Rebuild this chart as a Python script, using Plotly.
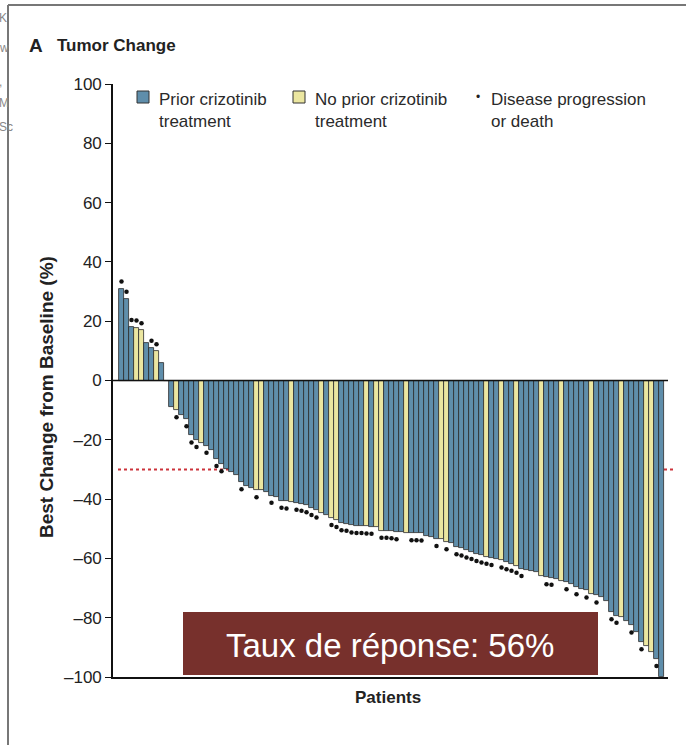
import plotly.graph_objects as go

# ---------------- data ----------------
patients = list(range(109))
best_change = [
    31, 27.5, 18, 17.8, 16.9, 12.8, 11, 9.8, 6, 0,
    -9, -10, -11.5, -13, -18.5, -20, -21, -22, -23.6, -26.4, -28.2, -29.8, -31, -32, -34.3, -35.5,
    -36.4, -37, -37, -37.5, -38.8, -39.2, -40.5, -40.8, -41, -41.2, -41.5, -42, -43, -43.8, -44.7, -45.5, -46.3, -47,
    -48.1, -48.3, -48.9, -49, -49, -49.2, -49.3, -49.5, -50.6, -50.6, -50.8, -51.1, -51.1, -51.4, -51.5, -51.5, -51.6, -52.3,
    -52.8, -53.4, -53.5, -54.5, -54.8, -56.2, -56.6, -57.3, -57.8, -58.5, -59, -59.4, -59.8, -60.2, -60.7, -61.3, -61.8, -62.4,
    -63.5, -63.8, -64.2, -64.6, -65.8, -66.3, -66.5, -66.9, -67.5, -68, -68.6, -69.7, -70.3, -70.8,
    -72, -72.5, -73, -74.2, -78.1, -79.3, -79.8, -81, -82.6, -84.9, -88.2, -89.4, -91.6, -93.9, -100,
]
no_prior_crizotinib = {3, 4, 7, 11, 16, 27, 28, 34, 40, 42, 43, 49, 51, 52, 57, 64, 65, 73, 76,
                       79, 84, 88, 94, 100, 105, 106}
progression_or_death = [0, 1, 2, 3, 4, 6, 7, 11, 13, 14, 15, 17, 19, 20, 24, 27, 30, 32, 33, 35, 36,
                        37, 38, 39, 42, 43, 44, 45, 46, 47, 48, 49, 50, 52, 53, 54, 55, 58, 59, 60,
                        63, 65, 67, 68, 69, 70, 71, 72, 73, 74, 76, 77, 78, 79, 80, 85, 86, 89, 91,
                        93, 95, 98, 99, 102, 104, 107, 108]
y_ticks = [100, 80, 60, 40, 20, 0, -20, -40, -60, -80, -100]
y_tick_labels = ["100", "80", "60", "40", "20", "0", "–20", "–40", "–60", "–80", "–100"]
threshold = -30

BLUE = "#5f8eab"
YELLOW = "#ebe6a0"
FONT = "Liberation Sans Narrow, Liberation Sans, Arial Narrow, sans-serif"

W, H = 686, 745
L, R, T, B = 113, 668, 84, 677


def px(x):
    return (x - L) / (R - L)


def py(y):
    return (B - y) / (B - T)


colors = [YELLOW if i in no_prior_crizotinib else BLUE for i in patients]

fig = go.Figure()
fig.add_trace(go.Bar(
    x=patients, y=best_change, marker=dict(color=colors, line=dict(color="#2b2b2b", width=0.8)),
    width=1.0, showlegend=False,
))
dot_y = [best_change[i] + (2.4 if best_change[i] > 0 else -2.4) for i in progression_or_death]
fig.add_trace(go.Scatter(
    x=progression_or_death, y=dot_y, mode="markers",
    marker=dict(color="#111111", size=4.5, symbol="circle"),
    cliponaxis=False, showlegend=False,
))

shapes = [
    # threshold line (behind bars)
    dict(type="line", xref="paper", yref="y", x0=px(118), x1=px(676), y0=threshold, y1=threshold,
         line=dict(color="#cc333b", width=2, dash="dot"), layer="below"),
    # zero line
    dict(type="line", xref="paper", yref="y", x0=0, x1=1, y0=0, y1=0,
         line=dict(color="#111111", width=1.6)),
    # frame
    dict(type="line", xref="paper", yref="paper", x0=px(8), x1=px(8), y0=py(5), y1=py(745),
         line=dict(color="#777777", width=2)),
    dict(type="line", xref="paper", yref="paper", x0=px(8), x1=px(686), y0=py(5), y1=py(5),
         line=dict(color="#777777", width=2)),
    # legend swatches
    dict(type="rect", xref="paper", yref="paper", x0=px(137), x1=px(149), y0=py(103), y1=py(91),
         fillcolor=BLUE, line=dict(color="#333333", width=1)),
    dict(type="rect", xref="paper", yref="paper", x0=px(293), x1=px(305), y0=py(103), y1=py(91),
         fillcolor=YELLOW, line=dict(color="#333333", width=1)),
    # response-rate box
    dict(type="rect", xref="paper", yref="paper", x0=px(183), x1=px(598), y0=py(675), y1=py(612),
         fillcolor="#77302c", line=dict(width=0)),
]

annotations = [
    dict(text="<b>A</b>", x=px(27), y=py(45), xanchor="left", yanchor="middle",
         font=dict(family=FONT, size=19, color="#222222")),
    dict(text="<b>Tumor Change</b>", x=px(55), y=py(45), xanchor="left", yanchor="middle",
         font=dict(family=FONT, size=17, color="#222222")),
    dict(text="Prior crizotinib<br>treatment", x=px(157), y=py(110), xanchor="left", yanchor="middle",
         align="left", font=dict(family=FONT, size=17, color="#2a2a2a")),
    dict(text="No prior crizotinib<br>treatment", x=px(313), y=py(110), xanchor="left", yanchor="middle",
         align="left", font=dict(family=FONT, size=17, color="#2a2a2a")),
    dict(text="•", x=px(478), y=py(97), xanchor="center", yanchor="middle",
         font=dict(family=FONT, size=12, color="#222222")),
    dict(text="Disease progression<br>or death", x=px(489), y=py(110), xanchor="left", yanchor="middle",
         align="left", font=dict(family=FONT, size=17, color="#2a2a2a")),
    dict(text="<b>Best Change from Baseline (%)</b>", x=px(46), y=py(397), textangle=-90,
         xanchor="center", yanchor="middle", font=dict(family=FONT, size=19, color="#222222")),
    dict(text="<b>Patients</b>", x=px(388), y=py(697), xanchor="center", yanchor="middle",
         font=dict(family=FONT, size=17, color="#222222")),
    dict(text="Taux de réponse: 56%", x=px(390), y=py(645), xanchor="center", yanchor="middle",
         font=dict(family="Liberation Sans, Arial, sans-serif", size=33, color="white")),
]
for ch, yy in [("K", 18), ("w", 48), (",", 82), ("M", 103), ("Sc", 127)]:
    annotations.append(dict(text=ch, x=px(-3), y=py(yy), xanchor="left", yanchor="middle",
                            font=dict(family="Liberation Sans", size=12, color="#888888")))

for a in annotations:
    a.update(xref="paper", yref="paper", showarrow=False)

fig.update_layout(
    width=W, height=H, margin=dict(l=L, r=W - R, t=T, b=H - B),
    paper_bgcolor="white", plot_bgcolor="white",
    bargap=0, shapes=shapes, annotations=annotations, showlegend=False,
    xaxis=dict(range=[-1.7, 109.3], showgrid=False, zeroline=False, showticklabels=False,
               ticks="", showline=True, linecolor="#111111", linewidth=1.6),
    yaxis=dict(range=[-100, 100], tickvals=y_ticks, ticktext=y_tick_labels, showgrid=False,
               zeroline=False, showline=True, linecolor="#111111", linewidth=1.6,
               ticks="outside", ticklen=6, tickwidth=1.4, tickcolor="#111111",
               tickfont=dict(family=FONT, size=17, color="#222222")),
)

fig.write_html("out.html")
